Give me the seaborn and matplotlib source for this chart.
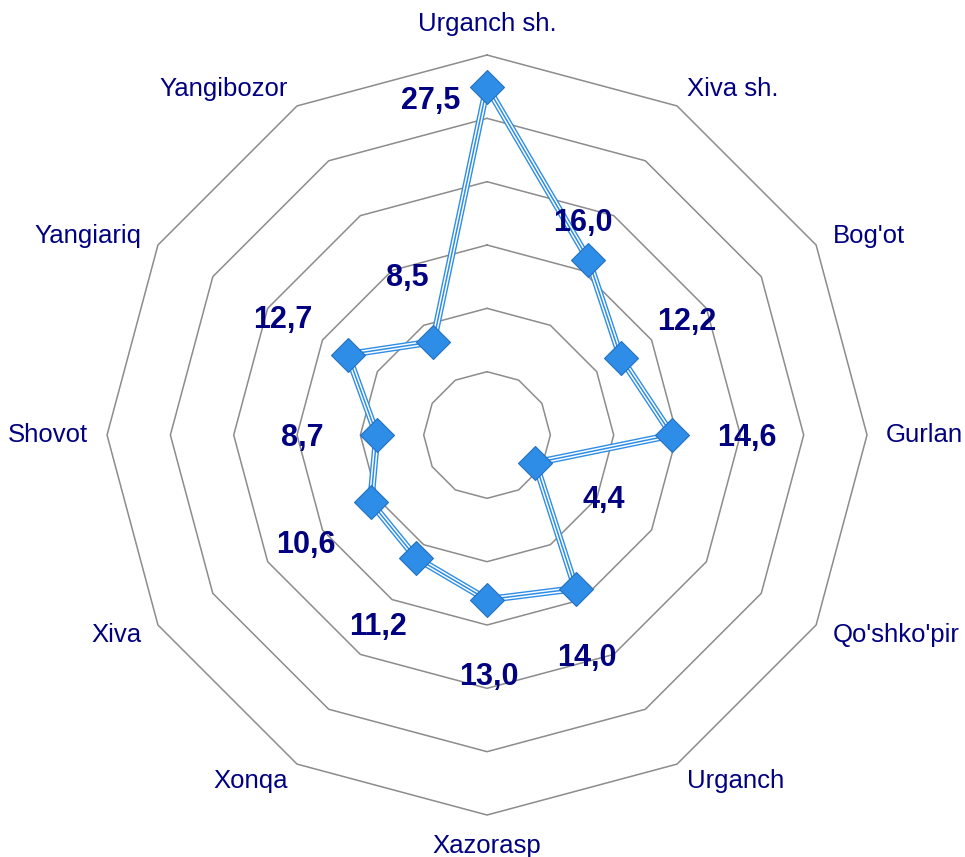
import numpy as np
import pandas as pd
import matplotlib
matplotlib.use("Agg")
import matplotlib.pyplot as plt
import seaborn as sns

# -----------------------------
# DATA
# -----------------------------

districts = ["Urganch sh.", "Xiva sh.", "Bog'ot", "Gurlan", "Qo'shko'pir", "Urganch",
             "Xazorasp", "Xonqa", "Xiva", "Shovot", "Yangiariq", "Yangibozor"]
values = [27.5, 16.0, 12.2, 14.6, 4.4, 14.0, 13.0, 11.2, 10.6, 8.7, 12.7, 8.5]
value_labels = ["27,5", "16,0", "12,2", "14,6", "4,4", "14,0",
                "13,0", "11,2", "10,6", "8,7", "12,7", "8,5"]
ring_levels = [5, 10, 15, 20, 25, 30]

# label offsets in pixels (manual placement like in the original)
label_offsets = [(-56, -14), (-5, 37), (66, 36), (75, -3), (68, -37), (11, -69),
                 (2, -77), (-38, -69), (-65, -43), (-75, -3), (-65, 35), (-26, 64)]

sns.set_style("white")
plt.rcParams["font.family"] = ["Liberation Sans", "DejaVu Sans"]

navy = "#000080"
blue = "#2e8de6"

n = len(districts)
angles = np.linspace(0, 2 * np.pi, n, endpoint=False)

df = pd.DataFrame({"angle": np.append(angles, angles[0]),
                   "value": values + [values[0]]})

fig = plt.figure(figsize=(9.65, 8.57), dpi=100)
ax = fig.add_axes([0.1109, 0.049, 0.7876, 0.8868], projection="polar")
ax.set_theta_offset(np.pi / 2)
ax.set_theta_direction(-1)
ax.set_ylim(0, 30)
ax.grid(False)
ax.spines["polar"].set_visible(False)
ax.set_xticks([])
ax.set_yticks([])

# polygon rings
closed = np.append(angles, angles[0])
for lv in ring_levels:
    ax.plot(closed, [lv] * len(closed), color="#8c8c8c", lw=1.1, clip_on=False, zorder=1)

# triple line
sns.lineplot(data=df, x="angle", y="value", sort=False, estimator=None,
             color=blue, lw=5.2, ax=ax, zorder=2)
sns.lineplot(data=df, x="angle", y="value", sort=False, estimator=None,
             color="white", lw=3.2, ax=ax, zorder=3)
sns.lineplot(data=df, x="angle", y="value", sort=False, estimator=None,
             color=blue, lw=1.1, ax=ax, zorder=4)
ax.plot(angles, values, linestyle="none", marker="D", markersize=17,
        markerfacecolor=blue, markeredgecolor="#2470c0", markeredgewidth=0.8,
        zorder=5, clip_on=False)
ax.set_xlabel("")
ax.set_ylabel("")

# data labels
for a, v, txt, off in zip(angles, values, value_labels, label_offsets):
    ax.annotate(txt, xy=(a, v), xytext=off, textcoords="offset pixels",
                ha="center", va="center", fontsize=22, fontweight="bold",
                color=navy, zorder=6)

# category labels
for a, name in zip(angles, districts):
    s, c = np.sin(a), np.cos(a)
    ha = "left" if s > 0.01 else ("right" if s < -0.01 else "center")
    if abs(s) < 0.01:
        va = "bottom" if c > 0 else "top"
    else:
        va = "center"
    ax.text(a, 31.5, name, ha=ha, va=va, fontsize=18.5, color=navy, clip_on=False)

plt.savefig("out.png", dpi=100)
